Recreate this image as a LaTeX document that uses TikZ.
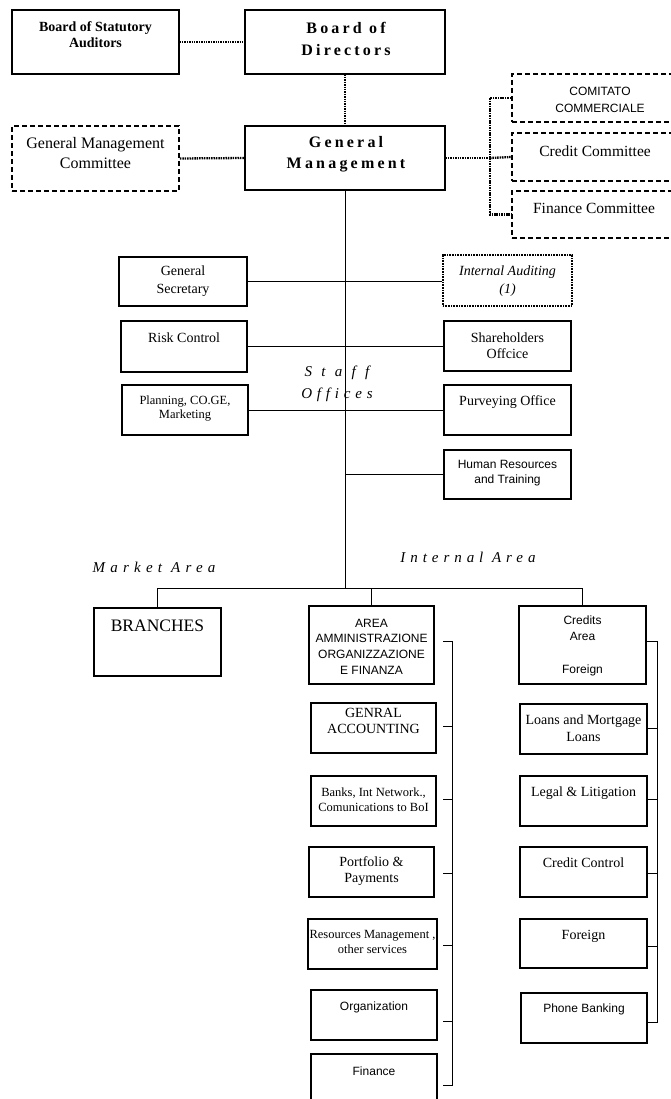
\documentclass[tikz,border=0pt]{standalone}
\usepackage{fontspec}
\setmainfont{Liberation Serif}
\newfontfamily\arial{Liberation Sans}
\usetikzlibrary{calc}

\tikzset{
  box/.style={draw, line width=1.1pt, inner sep=0pt},
  dashbox/.style={draw, line width=1.8pt, dash pattern=on 5pt off 3pt, inner sep=0pt},
  dotbox/.style={draw, line width=1.6pt, dash pattern=on 1pt off 0.6pt, inner sep=0pt},
  link/.style={line width=1pt},
  dotlink/.style={line width=2.3pt, dash pattern=on 1.5pt off 0.9pt},
  txt/.style={inner sep=0pt, align=center},
  serif/.style 2 args={txt, font=\fontsize{#1}{#2}\selectfont},
  serifb/.style 2 args={txt, font=\bfseries\fontsize{#1}{#2}\selectfont},
  serifi/.style 2 args={txt, font=\itshape\fontsize{#1}{#2}\selectfont},
  sans/.style 2 args={txt, font=\arial\fontsize{#1}{#2}\selectfont},
}

% \obox[style]{name}{x1}{y1}{x2}{y2}: a box given by its corners
\newcommand\obox[6][box]{%
  \node[#1, minimum width={(#5-#3)*1pt}, minimum height={(#6-#4)*1pt}]
    (#2) at ({(#3+#5)/2},{(#4+#6)/2}) {};}

\begin{document}
\begin{tikzpicture}[x=1pt, y=-1pt]
\useasboundingbox (0,0) rectangle (670,1099);

% ---- governing bodies ----
\obox{bsa}{12}{10}{179}{74}
\obox{bod}{245}{10}{445}{74}
\obox[dashbox]{gmc}{12}{126}{179}{191}
\obox{gm}{245}{126}{445}{190}
\obox[dashbox]{comm}{512}{74}{685}{122}
\obox[dashbox]{credc}{512}{133}{685}{181}
\obox[dashbox]{finc}{512}{191}{685}{238}

\node[serifb={14}{16}] (bsa-t) at (95.5,35) {Board of Statutory\\Auditors};
\node[serifb={16}{22}] (bod-t) at (346,39)
  {\addfontfeature{LetterSpace=20}Board of\\\addfontfeature{LetterSpace=20}Directors};
\node[serif={16}{20}] (gmc-t) at (95.5,153.5) {General Management\\Committee};
\node[serifb={16}{21}] (gm-t) at (346,154.5)
  {\addfontfeature{LetterSpace=20}General\\\addfontfeature{LetterSpace=20}Management};
\node[sans={12}{17}] (comm-t) at (600,99.5) {COMITATO\\COMMERCIALE};
\node[serif={15.5}{18}] (credc-t) at (595,151) {Credit Committee};
\node[serif={15.5}{18}] (finc-t) at (594,208) {Finance Committee};

\draw[dotlink] (bsa.east) -- (bod.west);
\draw[dotlink] (bod.south) -- (gm.north);
\draw[dotlink] (gmc.east) -- (gm.west);
\coordinate (cb) at (490,158);
\draw[dotlink] (gm.east) -- (cb);
\draw[dotlink] (comm.west) -| (cb) |- (finc.west);
\draw[dotlink] (cb) -- (credc.west);

% ---- staff offices ----
\obox{gsec}{119}{257}{247}{306}
\obox[dotbox]{iaud}{443}{255}{572}{306}
\obox{risk}{121}{321}{247}{372}
\obox{share}{444}{321}{571}{371}
\obox{plan}{122}{385}{248}{435}
\obox{purv}{444}{385}{571}{435}
\obox{hr}{444}{450}{571}{499}

\node[serif={14}{18}] (gsec-t) at (183,281) {General\\Secretary};
\node[serifi={14}{18}] (iaud-t) at (507.5,281) {Internal Auditing\\(1)};
\node[serif={14}{16}] (risk-t) at (184,338) {Risk Control};
\node[serif={14}{16}] (share-t) at (507.5,346) {Shareholders\\Offcice};
\node[serif={12.5}{13.5}] (plan-t) at (185,408.5) {Planning, CO.GE,\\Marketing};
\node[serif={14}{16}] (purv-t) at (507.5,402) {Purveying Office};
\node[sans={12}{15}] (hr-t) at (507.5,473.5) {Human Resources\\and Training};
\node[serifi={15}{22}] (staff-t) at (337,384)
  {\addfontfeature{LetterSpace=62}Staff\\\addfontfeature{LetterSpace=32}Offices};

\coordinate (bar) at (346,588);
\draw[link] (gm.south) -- (gm.south |- bar);
\draw[link] (gsec.east) -- (gsec.east -| iaud.west);
\draw[link] (risk.east) -- (risk.east -| share.west);
\draw[link] (plan.east) -- (plan.east -| purv.west);
\draw[link] (gm.south |- hr.west) -- (hr.west);

% ---- areas ----
\node[serifi={15}{18}] (market-t) at (154,567) {\addfontfeature{LetterSpace=35}Market Area};
\node[serifi={15}{18}] (internal-t) at (468,557) {\addfontfeature{LetterSpace=33}Internal Area};

\obox{branches}{94}{608}{221}{676}
\obox{area}{309}{606}{434}{684}
\obox{credits}{519}{606}{646}{684}

\node[serif={17.5}{20}] (branches-t) at (157.5,626) {BRANCHES};
\node[sans={12}{15.7}] (area-t) at (371.5,646.5)
  {AREA\\AMMINISTRAZIONE\\ORGANIZZAZIONE\\E FINANZA};
\node[sans={12}{16.3}] (credits-t) at (582.5,645.5) {Credits\\Area\\\mbox{}\\Foreign};

\draw[link] (branches.north) -- (branches.north |- bar) -- (credits.north |- bar) -- (credits.north);
\draw[link] (area.north |- bar) -- (area.north);

% administration, organisation and finance units
\obox{genacc}{311}{703}{436}{753}
\obox{banks}{311}{776}{436}{826}
\obox{port}{309}{847}{434}{897}
\obox{resm}{308}{919}{437}{969}
\obox{org}{311}{990}{437}{1040}
\obox{fin}{311}{1054}{437}{1112}

\node[serif={14}{16}] (genacc-t) at (373.5,721) {GENRAL\\ACCOUNTING};
\node[serif={12.5}{15}] (banks-t) at (373.5,799.5) {Banks, Int Network.,\\Comunications to BoI};
\node[serif={14}{16}] (port-t) at (371.5,871) {Portfolio \&\\Payments};
\node[serif={12.5}{15}] (resm-t) at (372.5,941.5) {Resources Management ,\\other services};
\node[sans={12}{15}] (org-t) at (374,1007) {Organization};
\node[sans={12}{15}] (fin-t) at (374,1071) {Finance};

\coordinate (l1) at (452,641);
\coordinate (l2) at (452,726);
\coordinate (l3) at (452,799);
\coordinate (l4) at (452,873);
\coordinate (l5) at (452,945);
\coordinate (l6) at (452,1021);
\coordinate (l7) at (452,1085);
\draw[link] ($(l1)+(-9,0)$) -- (l1) -- (l7) -- ($(l7)+(-9,0)$);
\foreach \c in {l2,l3,l4,l5,l6}
  \draw[link] ($(\c)+(-9,0)$) -- (\c);

% credit units
\obox{loans}{520}{704}{647}{754}
\obox{legal}{520}{776}{647}{826}
\obox{cctrl}{520}{847}{647}{897}
\obox{foreign}{520}{919}{647}{968}
\obox{phone}{521}{993}{647}{1043}

\node[serif={14}{17}] (loans-t) at (583.5,728.5) {Loans and Mortgage\\Loans};
\node[serif={14}{16}] (legal-t) at (583.5,793) {Legal \& Litigation};
\node[serif={14}{16}] (cctrl-t) at (583.5,863) {Credit Control};
\node[serif={14}{16}] (foreign-t) at (583.5,936) {Foreign};
\node[sans={12}{15}] (phone-t) at (584,1009) {Phone Banking};

\coordinate (r1) at (657,641);
\coordinate (r2) at (657,728);
\coordinate (r3) at (657,799);
\coordinate (r4) at (657,873);
\coordinate (r5) at (657,946);
\coordinate (r6) at (657,1022);
\draw[link] (credits.east |- r1) -- (r1) -- (r6) -- (phone.east |- r6);
\draw[link] (loans.east |- r2) -- (r2);
\draw[link] (legal.east |- r3) -- (r3);
\draw[link] (cctrl.east |- r4) -- (r4);
\draw[link] (foreign.east |- r5) -- (r5);
\end{tikzpicture}
\end{document}
